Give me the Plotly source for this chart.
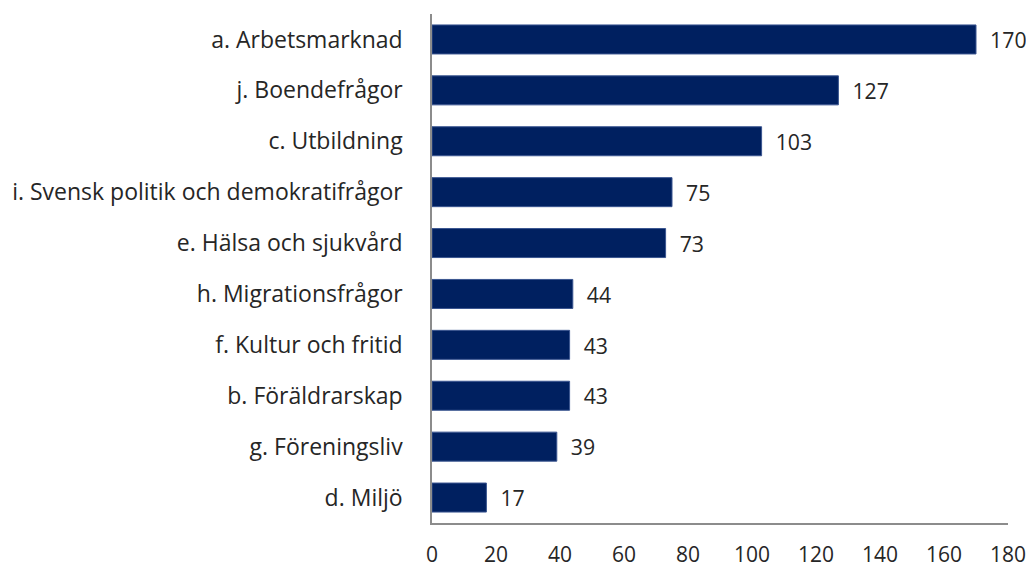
import plotly.graph_objects as go

categories = [
    "a. Arbetsmarknad",
    "j. Boendefrågor",
    "c. Utbildning",
    "i. Svensk politik och demokratifrågor",
    "e. Hälsa och sjukvård",
    "h. Migrationsfrågor",
    "f. Kultur och fritid",
    "b. Föräldrarskap",
    "g. Föreningsliv",
    "d. Miljö",
]
values = [170, 127, 103, 75, 73, 44, 43, 43, 39, 17]
x_ticks = [0, 20, 40, 60, 80, 100, 120, 140, 160, 180]

font_family = "Open Sans, Liberation Sans, DejaVu Sans, sans-serif"
text_color = "#262626"

fig = go.Figure(
    go.Bar(
        x=values,
        y=categories,
        orientation="h",
        marker=dict(color="#002060", line=dict(color="#3a5590", width=1)),
        text=values,
        texttemplate="  %{x}",
        textposition="outside",
        textfont=dict(size=22, color=text_color, family=font_family),
        cliponaxis=False,
        width=0.57,
    )
)

fig.update_layout(
    width=1026,
    height=562,
    margin=dict(l=424, r=26, t=6, b=47),
    paper_bgcolor="white",
    plot_bgcolor="white",
    showlegend=False,
    font=dict(family=font_family, size=22, color=text_color),
    xaxis=dict(
        range=[0, 180],
        tickvals=x_ticks,
        showgrid=False,
        zeroline=False,
        showline=True,
        linecolor="#8c8c8c",
        linewidth=1.5,
        ticks="",
        ticklabelstandoff=12,
        automargin=False,
        tickfont=dict(size=21, color=text_color),
    ),
    yaxis=dict(
        categoryorder="array",
        categoryarray=categories,
        autorange="reversed",
        showgrid=False,
        zeroline=False,
        showline=True,
        linecolor="#8c8c8c",
        linewidth=1.5,
        ticks="",
        ticklabelstandoff=23,
        automargin=False,
        tickfont=dict(size=23, color=text_color),
    ),
)

fig.write_html("out.html")
